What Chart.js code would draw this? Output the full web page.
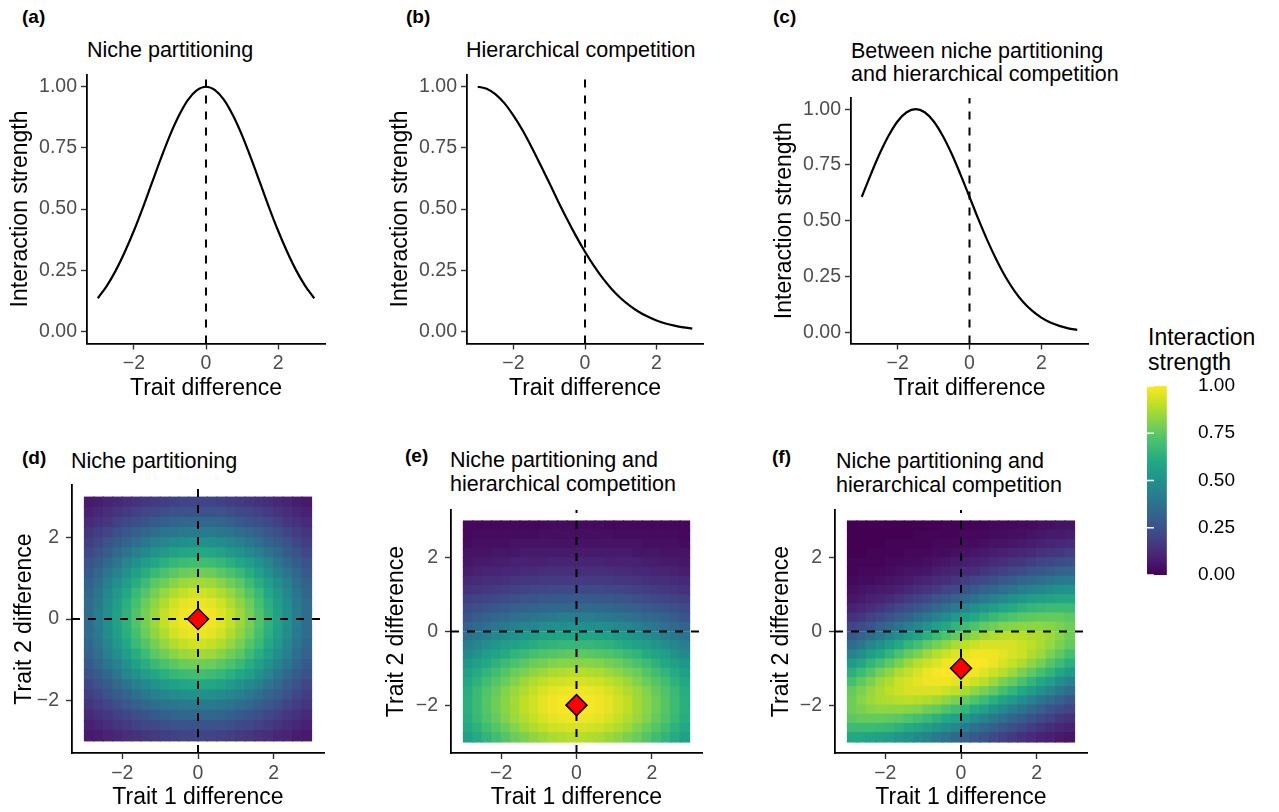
<!DOCTYPE html>
<html><head><meta charset="utf-8">
<script src="https://cdn.jsdelivr.net/npm/chart.js@4.4.1/dist/chart.umd.min.js"></script>
<style>
body{margin:0;background:#fff;width:1279px;height:812px;position:relative;overflow:hidden;font-family:"Liberation Sans",Arial,Helvetica,sans-serif;}
canvas{position:absolute;}
.t{position:absolute;font-size:21.5px;line-height:1;color:#000;white-space:nowrap;}
.tag{position:absolute;font-size:19px;line-height:1;font-weight:bold;color:#000;white-space:nowrap;}
.lt{position:absolute;font-size:23px;line-height:1;color:#000;white-space:nowrap;}
</style></head><body>
<div class="tag" style="left:22px;top:7.4px">(a)</div>
<div class="tag" style="left:406px;top:7.4px">(b)</div>
<div class="tag" style="left:773px;top:7.4px">(c)</div>
<div class="tag" style="left:22px;top:448.2px">(d)</div>
<div class="tag" style="left:405px;top:445.6px">(e)</div>
<div class="tag" style="left:772px;top:447px">(f)</div>
<div class="t" style="left:87px;top:40px">Niche partitioning</div>
<div class="t" style="left:466px;top:40px">Hierarchical competition</div>
<div class="t" style="left:851px;top:41px">Between niche partitioning</div>
<div class="t" style="left:851px;top:63.5px">and hierarchical competition</div>
<div class="t" style="left:71px;top:451px">Niche partitioning</div>
<div class="t" style="left:450px;top:450px">Niche partitioning and</div>
<div class="t" style="left:450px;top:474px">hierarchical competition</div>
<div class="t" style="left:836px;top:451px">Niche partitioning and</div>
<div class="t" style="left:836px;top:474.5px">hierarchical competition</div>
<div class="lt" style="left:1148px;top:325.5px">Interaction</div>
<div class="lt" style="left:1148px;top:350.5px">strength</div>
<script>
// ---------- data ----------
const curveX = [-3,-2.75,-2.5,-2.25,-2,-1.75,-1.5,-1.25,-1,-0.75,-0.5,-0.25,0,0.25,0.5,0.75,1,1.25,1.5,1.75,2,2.25,2.5,2.75,3];
const nichePartitioning = [0.135,0.186,0.249,0.325,0.411,0.506,0.607,0.707,0.801,0.882,0.946,0.986,1.000,0.986,0.946,0.882,0.801,0.707,0.607,0.506,0.411,0.325,0.249,0.186,0.135];
const hierarchicalCompetition = [1.000,0.992,0.969,0.932,0.882,0.823,0.755,0.682,0.607,0.531,0.458,0.389,0.325,0.267,0.216,0.172,0.135,0.105,0.080,0.060,0.044,0.032,0.023,0.016,0.011];
const betweenBoth = [0.607,0.707,0.801,0.882,0.946,0.986,1.000,0.986,0.946,0.882,0.801,0.707,0.607,0.506,0.411,0.325,0.249,0.186,0.135,0.096,0.066,0.044,0.029,0.018,0.011];
const strengthTicks = [0, 0.25, 0.5, 0.75, 1];
const traitTicks = [-2, 0, 2];
const legendTicks = [0, 0.25, 0.5, 0.75, 1];

// heatmap cell centres: trait 1 difference (columns), trait 2 difference (rows, top first)
const gridX = [-2.875,-2.625,-2.375,-2.125,-1.875,-1.625,-1.375,-1.125,-0.875,-0.625,-0.375,-0.125,0.125,0.375,0.625,0.875,1.125,1.375,1.625,1.875,2.125,2.375,2.625,2.875];
const gridY = [2.875,2.625,2.375,2.125,1.875,1.625,1.375,1.125,0.875,0.625,0.375,0.125,-0.125,-0.375,-0.625,-0.875,-1.125,-1.375,-1.625,-1.875,-2.125,-2.375,-2.625,-2.875];

const heatD = [
[0.07,0.08,0.10,0.11,0.13,0.14,0.16,0.17,0.18,0.19,0.20,0.20,0.20,0.20,0.19,0.18,0.17,0.16,0.14,0.13,0.11,0.10,0.08,0.07],
[0.09,0.11,0.13,0.15,0.17,0.19,0.21,0.22,0.24,0.25,0.26,0.26,0.26,0.26,0.25,0.24,0.22,0.21,0.19,0.17,0.15,0.13,0.11,0.09],
[0.12,0.14,0.16,0.19,0.21,0.24,0.26,0.28,0.30,0.32,0.33,0.33,0.33,0.33,0.32,0.30,0.28,0.26,0.24,0.21,0.19,0.16,0.14,0.12],
[0.15,0.18,0.20,0.24,0.27,0.30,0.33,0.35,0.38,0.39,0.41,0.41,0.41,0.41,0.39,0.38,0.35,0.33,0.30,0.27,0.24,0.20,0.18,0.15],
[0.18,0.21,0.25,0.29,0.32,0.36,0.40,0.43,0.46,0.48,0.49,0.50,0.50,0.49,0.48,0.46,0.43,0.40,0.36,0.32,0.29,0.25,0.21,0.18],
[0.21,0.25,0.29,0.34,0.38,0.43,0.47,0.51,0.54,0.57,0.59,0.60,0.60,0.59,0.57,0.54,0.51,0.47,0.43,0.38,0.34,0.29,0.25,0.21],
[0.25,0.29,0.34,0.39,0.45,0.50,0.55,0.59,0.63,0.66,0.68,0.69,0.69,0.68,0.66,0.63,0.59,0.55,0.50,0.45,0.39,0.34,0.29,0.25],
[0.28,0.33,0.39,0.44,0.50,0.56,0.62,0.67,0.71,0.74,0.77,0.78,0.78,0.77,0.74,0.71,0.67,0.62,0.56,0.50,0.44,0.39,0.33,0.28],
[0.31,0.36,0.43,0.49,0.55,0.62,0.68,0.74,0.78,0.82,0.85,0.86,0.86,0.85,0.82,0.78,0.74,0.68,0.62,0.55,0.49,0.43,0.36,0.31],
[0.33,0.39,0.46,0.53,0.60,0.67,0.73,0.79,0.84,0.88,0.91,0.93,0.93,0.91,0.88,0.84,0.79,0.73,0.67,0.60,0.53,0.46,0.39,0.33],
[0.35,0.41,0.48,0.55,0.63,0.70,0.77,0.83,0.88,0.93,0.96,0.97,0.97,0.96,0.93,0.88,0.83,0.77,0.70,0.63,0.55,0.48,0.41,0.35],
[0.35,0.42,0.49,0.57,0.64,0.72,0.79,0.85,0.91,0.95,0.98,0.99,0.99,0.98,0.95,0.91,0.85,0.79,0.72,0.64,0.57,0.49,0.42,0.35],
[0.35,0.42,0.49,0.57,0.64,0.72,0.79,0.85,0.91,0.95,0.98,0.99,0.99,0.98,0.95,0.91,0.85,0.79,0.72,0.64,0.57,0.49,0.42,0.35],
[0.35,0.41,0.48,0.55,0.63,0.70,0.77,0.83,0.88,0.93,0.96,0.97,0.97,0.96,0.93,0.88,0.83,0.77,0.70,0.63,0.55,0.48,0.41,0.35],
[0.33,0.39,0.46,0.53,0.60,0.67,0.73,0.79,0.84,0.88,0.91,0.93,0.93,0.91,0.88,0.84,0.79,0.73,0.67,0.60,0.53,0.46,0.39,0.33],
[0.31,0.36,0.43,0.49,0.55,0.62,0.68,0.74,0.78,0.82,0.85,0.86,0.86,0.85,0.82,0.78,0.74,0.68,0.62,0.55,0.49,0.43,0.36,0.31],
[0.28,0.33,0.39,0.44,0.50,0.56,0.62,0.67,0.71,0.74,0.77,0.78,0.78,0.77,0.74,0.71,0.67,0.62,0.56,0.50,0.44,0.39,0.33,0.28],
[0.25,0.29,0.34,0.39,0.45,0.50,0.55,0.59,0.63,0.66,0.68,0.69,0.69,0.68,0.66,0.63,0.59,0.55,0.50,0.45,0.39,0.34,0.29,0.25],
[0.21,0.25,0.29,0.34,0.38,0.43,0.47,0.51,0.54,0.57,0.59,0.60,0.60,0.59,0.57,0.54,0.51,0.47,0.43,0.38,0.34,0.29,0.25,0.21],
[0.18,0.21,0.25,0.29,0.32,0.36,0.40,0.43,0.46,0.48,0.49,0.50,0.50,0.49,0.48,0.46,0.43,0.40,0.36,0.32,0.29,0.25,0.21,0.18],
[0.15,0.18,0.20,0.24,0.27,0.30,0.33,0.35,0.38,0.39,0.41,0.41,0.41,0.41,0.39,0.38,0.35,0.33,0.30,0.27,0.24,0.20,0.18,0.15],
[0.12,0.14,0.16,0.19,0.21,0.24,0.26,0.28,0.30,0.32,0.33,0.33,0.33,0.33,0.32,0.30,0.28,0.26,0.24,0.21,0.19,0.16,0.14,0.12],
[0.09,0.11,0.13,0.15,0.17,0.19,0.21,0.22,0.24,0.25,0.26,0.26,0.26,0.26,0.25,0.24,0.22,0.21,0.19,0.17,0.15,0.13,0.11,0.09],
[0.07,0.08,0.10,0.11,0.13,0.14,0.16,0.17,0.18,0.19,0.20,0.20,0.20,0.20,0.19,0.18,0.17,0.16,0.14,0.13,0.11,0.10,0.08,0.07]];

const heatE = [
[0.02,0.02,0.02,0.02,0.02,0.02,0.02,0.02,0.02,0.03,0.03,0.03,0.03,0.03,0.03,0.02,0.02,0.02,0.02,0.02,0.02,0.02,0.02,0.02],
[0.02,0.03,0.03,0.03,0.03,0.03,0.03,0.03,0.04,0.04,0.04,0.04,0.04,0.04,0.04,0.04,0.03,0.03,0.03,0.03,0.03,0.03,0.03,0.02],
[0.03,0.04,0.04,0.04,0.04,0.05,0.05,0.05,0.05,0.05,0.05,0.05,0.05,0.05,0.05,0.05,0.05,0.05,0.05,0.04,0.04,0.04,0.04,0.03],
[0.05,0.05,0.05,0.06,0.06,0.06,0.07,0.07,0.07,0.07,0.07,0.07,0.07,0.07,0.07,0.07,0.07,0.07,0.06,0.06,0.06,0.05,0.05,0.05],
[0.06,0.07,0.07,0.08,0.08,0.09,0.09,0.09,0.09,0.10,0.10,0.10,0.10,0.10,0.10,0.09,0.09,0.09,0.09,0.08,0.08,0.07,0.07,0.06],
[0.08,0.09,0.10,0.10,0.11,0.11,0.12,0.12,0.13,0.13,0.13,0.13,0.13,0.13,0.13,0.13,0.12,0.12,0.11,0.11,0.10,0.10,0.09,0.08],
[0.11,0.12,0.13,0.13,0.14,0.15,0.16,0.16,0.17,0.17,0.17,0.17,0.17,0.17,0.17,0.17,0.16,0.16,0.15,0.14,0.13,0.13,0.12,0.11],
[0.14,0.15,0.16,0.17,0.18,0.19,0.20,0.21,0.21,0.22,0.22,0.22,0.22,0.22,0.22,0.21,0.21,0.20,0.19,0.18,0.17,0.16,0.15,0.14],
[0.18,0.19,0.20,0.22,0.23,0.24,0.25,0.26,0.27,0.27,0.28,0.28,0.28,0.28,0.27,0.27,0.26,0.25,0.24,0.23,0.22,0.20,0.19,0.18],
[0.22,0.24,0.25,0.27,0.28,0.30,0.31,0.32,0.33,0.34,0.34,0.34,0.34,0.34,0.34,0.33,0.32,0.31,0.30,0.28,0.27,0.25,0.24,0.22],
[0.26,0.29,0.31,0.33,0.34,0.36,0.38,0.39,0.40,0.41,0.42,0.42,0.42,0.42,0.41,0.40,0.39,0.38,0.36,0.34,0.33,0.31,0.29,0.26],
[0.31,0.34,0.36,0.39,0.41,0.43,0.45,0.46,0.48,0.49,0.49,0.50,0.50,0.49,0.49,0.48,0.46,0.45,0.43,0.41,0.39,0.36,0.34,0.31],
[0.37,0.40,0.42,0.45,0.48,0.50,0.52,0.54,0.56,0.57,0.58,0.58,0.58,0.58,0.57,0.56,0.54,0.52,0.50,0.48,0.45,0.42,0.40,0.37],
[0.42,0.45,0.49,0.52,0.55,0.57,0.60,0.62,0.64,0.65,0.66,0.66,0.66,0.66,0.65,0.64,0.62,0.60,0.57,0.55,0.52,0.49,0.45,0.42],
[0.47,0.51,0.55,0.58,0.61,0.65,0.67,0.70,0.72,0.73,0.74,0.75,0.75,0.74,0.73,0.72,0.70,0.67,0.65,0.61,0.58,0.55,0.51,0.47],
[0.52,0.56,0.60,0.64,0.68,0.71,0.74,0.77,0.79,0.81,0.82,0.82,0.82,0.82,0.81,0.79,0.77,0.74,0.71,0.68,0.64,0.60,0.56,0.52],
[0.56,0.61,0.65,0.69,0.73,0.77,0.80,0.83,0.85,0.87,0.88,0.89,0.89,0.88,0.87,0.85,0.83,0.80,0.77,0.73,0.69,0.65,0.61,0.56],
[0.60,0.64,0.69,0.73,0.77,0.81,0.85,0.88,0.90,0.92,0.93,0.94,0.94,0.93,0.92,0.90,0.88,0.85,0.81,0.77,0.73,0.69,0.64,0.60],
[0.62,0.67,0.72,0.76,0.81,0.85,0.88,0.91,0.94,0.96,0.97,0.98,0.98,0.97,0.96,0.94,0.91,0.88,0.85,0.81,0.76,0.72,0.67,0.62],
[0.63,0.68,0.73,0.78,0.82,0.86,0.90,0.93,0.96,0.98,0.99,1.00,1.00,0.99,0.98,0.96,0.93,0.90,0.86,0.82,0.78,0.73,0.68,0.63],
[0.63,0.68,0.73,0.78,0.82,0.86,0.90,0.93,0.96,0.98,0.99,1.00,1.00,0.99,0.98,0.96,0.93,0.90,0.86,0.82,0.78,0.73,0.68,0.63],
[0.62,0.67,0.72,0.76,0.81,0.85,0.88,0.91,0.94,0.96,0.97,0.98,0.98,0.97,0.96,0.94,0.91,0.88,0.85,0.81,0.76,0.72,0.67,0.62],
[0.60,0.64,0.69,0.73,0.77,0.81,0.85,0.88,0.90,0.92,0.93,0.94,0.94,0.93,0.92,0.90,0.88,0.85,0.81,0.77,0.73,0.69,0.64,0.60],
[0.56,0.61,0.65,0.69,0.73,0.77,0.80,0.83,0.85,0.87,0.88,0.89,0.89,0.88,0.87,0.85,0.83,0.80,0.77,0.73,0.69,0.65,0.61,0.56]];

const heatF = [
[0.00,0.00,0.00,0.00,0.00,0.00,0.00,0.00,0.00,0.00,0.01,0.01,0.01,0.01,0.01,0.02,0.02,0.02,0.03,0.03,0.04,0.04,0.05,0.05],
[0.00,0.00,0.00,0.00,0.00,0.00,0.00,0.01,0.01,0.01,0.01,0.01,0.02,0.02,0.02,0.03,0.03,0.04,0.04,0.05,0.06,0.07,0.07,0.08],
[0.00,0.00,0.00,0.00,0.01,0.01,0.01,0.01,0.01,0.02,0.02,0.02,0.03,0.03,0.04,0.05,0.05,0.06,0.07,0.08,0.09,0.10,0.11,0.12],
[0.00,0.00,0.01,0.01,0.01,0.01,0.02,0.02,0.02,0.03,0.03,0.04,0.05,0.06,0.07,0.08,0.09,0.10,0.11,0.12,0.14,0.15,0.16,0.18],
[0.01,0.01,0.01,0.01,0.02,0.02,0.03,0.03,0.04,0.05,0.06,0.07,0.08,0.09,0.10,0.12,0.13,0.15,0.16,0.18,0.20,0.21,0.23,0.24],
[0.01,0.02,0.02,0.02,0.03,0.04,0.05,0.05,0.06,0.08,0.09,0.10,0.12,0.13,0.15,0.17,0.19,0.21,0.23,0.25,0.27,0.29,0.31,0.32],
[0.02,0.03,0.03,0.04,0.05,0.06,0.07,0.09,0.10,0.12,0.13,0.15,0.18,0.20,0.22,0.24,0.27,0.29,0.32,0.34,0.36,0.38,0.40,0.41],
[0.04,0.05,0.06,0.07,0.08,0.09,0.11,0.13,0.15,0.17,0.20,0.22,0.25,0.28,0.31,0.33,0.36,0.39,0.42,0.44,0.46,0.48,0.50,0.51],
[0.06,0.07,0.09,0.10,0.12,0.14,0.17,0.19,0.22,0.25,0.28,0.31,0.34,0.37,0.41,0.44,0.47,0.50,0.52,0.55,0.57,0.58,0.59,0.60],
[0.09,0.11,0.13,0.15,0.18,0.21,0.24,0.27,0.30,0.34,0.37,0.41,0.45,0.49,0.52,0.55,0.59,0.61,0.64,0.66,0.67,0.68,0.68,0.68],
[0.14,0.16,0.19,0.22,0.25,0.29,0.32,0.36,0.40,0.44,0.48,0.53,0.57,0.60,0.64,0.67,0.70,0.72,0.74,0.75,0.76,0.76,0.76,0.74],
[0.20,0.23,0.26,0.30,0.34,0.38,0.42,0.47,0.51,0.56,0.60,0.65,0.69,0.72,0.76,0.78,0.81,0.82,0.83,0.83,0.83,0.82,0.80,0.78],
[0.27,0.31,0.35,0.39,0.44,0.49,0.54,0.58,0.63,0.68,0.72,0.76,0.80,0.83,0.86,0.88,0.89,0.90,0.89,0.88,0.87,0.85,0.82,0.78],
[0.35,0.40,0.45,0.50,0.55,0.60,0.65,0.70,0.75,0.79,0.83,0.87,0.90,0.92,0.94,0.94,0.94,0.94,0.92,0.90,0.87,0.84,0.80,0.76],
[0.44,0.49,0.55,0.60,0.65,0.71,0.76,0.80,0.85,0.89,0.92,0.95,0.96,0.98,0.98,0.98,0.96,0.94,0.92,0.88,0.85,0.80,0.75,0.70],
[0.54,0.59,0.65,0.70,0.75,0.80,0.85,0.89,0.92,0.95,0.98,0.99,1.00,1.00,0.99,0.97,0.94,0.91,0.88,0.83,0.79,0.73,0.68,0.63],
[0.63,0.68,0.73,0.79,0.83,0.88,0.91,0.94,0.97,0.99,1.00,1.00,0.99,0.98,0.95,0.92,0.89,0.85,0.80,0.75,0.70,0.65,0.59,0.54],
[0.70,0.75,0.80,0.85,0.88,0.92,0.94,0.96,0.98,0.98,0.98,0.96,0.95,0.92,0.89,0.85,0.80,0.76,0.71,0.65,0.60,0.55,0.49,0.44],
[0.76,0.80,0.84,0.87,0.90,0.92,0.94,0.94,0.94,0.94,0.92,0.90,0.87,0.83,0.79,0.75,0.70,0.65,0.60,0.55,0.50,0.45,0.40,0.35],
[0.78,0.82,0.85,0.87,0.88,0.89,0.90,0.89,0.88,0.86,0.83,0.80,0.76,0.72,0.68,0.63,0.58,0.54,0.49,0.44,0.39,0.35,0.31,0.27],
[0.78,0.80,0.82,0.83,0.83,0.83,0.82,0.81,0.78,0.76,0.72,0.69,0.65,0.60,0.56,0.51,0.47,0.42,0.38,0.34,0.30,0.26,0.23,0.20],
[0.74,0.76,0.76,0.76,0.75,0.74,0.72,0.70,0.67,0.64,0.60,0.57,0.53,0.48,0.44,0.40,0.36,0.32,0.29,0.25,0.22,0.19,0.16,0.14],
[0.68,0.68,0.68,0.67,0.66,0.64,0.61,0.59,0.55,0.52,0.49,0.45,0.41,0.37,0.34,0.30,0.27,0.24,0.21,0.18,0.15,0.13,0.11,0.09],
[0.60,0.59,0.58,0.57,0.55,0.52,0.50,0.47,0.44,0.41,0.37,0.34,0.31,0.28,0.25,0.22,0.19,0.17,0.14,0.12,0.10,0.09,0.07,0.06]];

const optimumD = {x: 0, y: 0};
const optimumE = {x: 0, y: -2};
const optimumF = {x: 0, y: -1};

// ---------- styling helpers ----------
const FONT = '"Liberation Sans", Arial, Helvetica, sans-serif';
Chart.defaults.font.family = FONT;
const VIRIDIS = ['#440154','#482475','#414487','#355f8d','#2a788e','#21918c','#22a884','#44bf70','#7ad151','#bddf26','#fde725'];
function hexRgb(h){return [parseInt(h.slice(1,3),16),parseInt(h.slice(3,5),16),parseInt(h.slice(5,7),16)];}
function viridis(t){
  t=Math.max(0,Math.min(1,t));
  const s=t*10, i=Math.min(9,Math.floor(s)), f=s-i;
  const a=hexRgb(VIRIDIS[i]), b=hexRgb(VIRIDIS[i+1]);
  return 'rgb('+a.map((v,k)=>Math.round(v+(b[k]-v)*f)).join(',')+')';
}
const minus = v => (v<0?'\u2212'+Math.abs(v):String(v));
const two = v => Number(v).toFixed(2);
const TICK_FONT = {family:FONT,size:19.5};
const TITLE_FONT = {family:FONT,size:23,lineHeight:1.2};

function addCanvas(box){
  const c=document.createElement('canvas');
  c.width=box.w;c.height=box.h;
  Object.assign(c.style,{left:box.x+'px',top:box.y+'px',width:box.w+'px',height:box.h+'px'});
  document.body.appendChild(c);
  return c;
}
function tickGrid(){return {display:true,offset:false,drawOnChartArea:false,drawTicks:true,tickLength:6,tickColor:'#333333',tickWidth:1.4};}
function axisBorder(){return {display:true,color:'#000000',width:1.8};}

function makePanel(p){
  const box=p.box, area=p.area;
  const c=addCanvas(box);
  const yW=area.L-box.x, xH=box.y+box.h-area.B;
  const lh=TITLE_FONT.size*1.2;
  return new Chart(c,{
    type:p.type,
    data:{datasets:p.datasets},
    options:{
      responsive:false,animation:false,devicePixelRatio:1,events:[],
      layout:{autoPadding:false,padding:{left:0,top:area.T-box.y,right:box.x+box.w-area.R,bottom:0}},
      plugins:{legend:{display:false},tooltip:{enabled:false},title:{display:false}},
      scales:{
        x:{type:'linear',min:p.xr[0],max:p.xr[1],offset:false,
          afterBuildTicks:s=>{s.ticks=p.xt.map(v=>({value:v}));},
          afterFit:s=>{s.height=xH;},
          grid:tickGrid(),border:axisBorder(),
          ticks:{color:'#4d4d4d',font:TICK_FONT,padding:2.5,maxRotation:0,autoSkip:false,callback:p.xfmt},
          title:{display:true,text:p.xTitle,color:'#000',font:TITLE_FONT,padding:{top:0,bottom:box.y+box.h-p.xTitleY-lh/2}}},
        y:{type:'linear',min:p.yr[0],max:p.yr[1],
          afterBuildTicks:s=>{s.ticks=p.yt.map(v=>({value:v}));},
          afterFit:s=>{s.width=yW;},
          grid:tickGrid(),border:axisBorder(),
          ticks:{color:'#4d4d4d',font:TICK_FONT,padding:p.yPad,autoSkip:false,callback:p.yfmt},
          title:{display:true,text:p.yTitle,color:'#000',font:TITLE_FONT,padding:{top:p.yTitleX-box.x-lh/2,bottom:0}}}
      }
    }
  });
}

function curveDataset(vals){
  return {type:'line',data:curveX.map((x,i)=>({x:x,y:vals[i]})),borderColor:'#000',borderWidth:2.2,
    pointRadius:0,fill:false,cubicInterpolationMode:'monotone',order:1};
}
function dashed(points){
  return {type:'line',data:points,borderColor:'#000',borderWidth:2,borderDash:[8,8],pointRadius:0,fill:false,tension:0,order:2};
}
function heatDataset(grid){
  const hx=(gridX[1]-gridX[0])/2, hy=(gridY[0]-gridY[1])/2;
  const data=[],colors=[];
  grid.forEach((row,r)=>row.forEach((v,c)=>{
    data.push({x:gridX[c],y:[gridY[r]-hy,gridY[r]+hy]});
    colors.push(viridis(v));
  }));
  return {type:'bar',data:data,backgroundColor:colors,borderWidth:0,grouped:false,
    barPercentage:1,categoryPercentage:1,inflateAmount:0.6,order:3};
}
function diamond(pt){
  return {type:'scatter',data:[pt],showLine:false,pointStyle:'rectRot',pointRadius:10.5,
    pointBackgroundColor:'#ff0000',pointBorderColor:'#000',pointBorderWidth:1.5,order:0};
}

// ---------- top row ----------
const TOP_X=[-3.3,3.3], TOP_Y=[-0.05,1.05];
const topPanels=[
  {box:{x:0,y:50,w:330,h:360},area:{L:87,T:74.5,R:325,B:343.5},vals:nichePartitioning,yTitleX:20.7},
  {box:{x:380,y:50,w:330,h:360},area:{L:467,T:74.5,R:703,B:343.5},vals:hierarchicalCompetition,yTitleX:400.3},
  {box:{x:760,y:60,w:335,h:350},area:{L:851,T:98,R:1088,B:343.5},vals:betweenBoth,yTitleX:785}
];
topPanels.forEach(tp=>{
  makePanel({type:'line',box:tp.box,area:tp.area,xr:TOP_X,yr:TOP_Y,xt:traitTicks,yt:strengthTicks,
    xfmt:minus,yfmt:two,xTitle:'Trait difference',yTitle:'Interaction strength',
    xTitleY:388.3,yTitleX:tp.yTitleX,yPad:4,
    datasets:[curveDataset(tp.vals),dashed([{x:0,y:TOP_Y[0]},{x:0,y:TOP_Y[1]}])]});
});

// ---------- bottom row ----------
const BOT_X=[-3.33,3.33], BOT_Y=[-3.3,3.3];
const botPanels=[
  {box:{x:0,y:460,w:330,h:352},area:{L:72,T:485,R:324,B:753},grid:heatD,opt:optimumD,yTitleX:25},
  {box:{x:380,y:470,w:330,h:342},area:{L:451,T:510,R:702,B:753},grid:heatE,opt:optimumE,yTitleX:396.7},
  {box:{x:760,y:470,w:335,h:342},area:{L:835,T:510,R:1087,B:753},grid:heatF,opt:optimumF,yTitleX:781.7}
];
botPanels.forEach(bp=>{
  makePanel({type:'bar',box:bp.box,area:bp.area,xr:BOT_X,yr:BOT_Y,xt:traitTicks,yt:traitTicks,
    xfmt:minus,yfmt:minus,xTitle:'Trait 1 difference',yTitle:'Trait 2 difference',
    xTitleY:798,yTitleX:bp.yTitleX,yPad:7,
    datasets:[diamond(bp.opt),
      dashed([{x:BOT_X[0],y:0},{x:BOT_X[1],y:0}]),
      dashed([{x:0,y:BOT_Y[0]},{x:0,y:BOT_Y[1]}]),
      heatDataset(bp.grid)]});
});

// ---------- colour bar ----------
(function(){
  const box={x:1140,y:360,w:139,h:240}, area={L:1147,T:386,R:1186,B:575};
  const c=addCanvas(box);
  const whiteTicks={id:'whiteTicks',afterDatasetsDraw(chart){
    const s=chart.scales.y, a=chart.chartArea, ctx=chart.ctx;
    ctx.save();ctx.strokeStyle='#ffffff';ctx.lineWidth=1.3;
    legendTicks.forEach(v=>{
      const y=s.getPixelForValue(v);
      ctx.beginPath();ctx.moveTo(a.left,y);ctx.lineTo(a.left+7,y);
      ctx.moveTo(a.right-7,y);ctx.lineTo(a.right,y);ctx.stroke();
    });
    ctx.restore();
  }};
  new Chart(c,{
    type:'bar',
    data:{labels:['Interaction strength'],datasets:[{data:[[0,1]],borderWidth:0,barPercentage:1,categoryPercentage:1,
      backgroundColor:ctx=>{
        const a=ctx.chart.chartArea; if(!a) return VIRIDIS[5];
        const g=ctx.chart.ctx.createLinearGradient(0,a.bottom,0,a.top);
        VIRIDIS.forEach((col,i)=>g.addColorStop(i/(VIRIDIS.length-1),col));
        return g;
      }}]},
    options:{
      responsive:false,animation:false,devicePixelRatio:1,events:[],
      layout:{autoPadding:false,padding:{left:area.L-box.x,top:area.T-box.y,right:0,bottom:box.y+box.h-area.B}},
      plugins:{legend:{display:false},tooltip:{enabled:false}},
      scales:{
        x:{display:false,offset:false},
        y:{position:'right',min:0,max:1,
          afterBuildTicks:s=>{s.ticks=legendTicks.map(v=>({value:v}));},
          afterFit:s=>{s.width=box.x+box.w-area.R;},
          grid:{display:false,drawTicks:false},border:{display:false},
          ticks:{color:'#000',font:{family:FONT,size:19},padding:12,callback:two}}
      }
    },
    plugins:[whiteTicks]
  });
})();
</script>
</body></html>
